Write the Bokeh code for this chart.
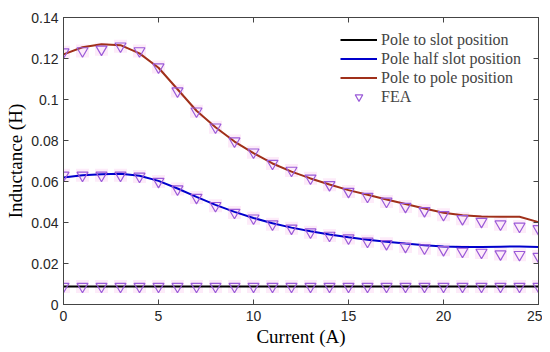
from bokeh.plotting import figure
from bokeh.models import LinearAxis, FixedTicker, Legend, LegendItem, Range1d
from bokeh.embed import file_html
from bokeh.resources import INLINE

current = list(range(26))

slot_line = [0.0088] * 26
half_slot_line = [0.062, 0.063, 0.0635, 0.0638, 0.0628, 0.0603, 0.0566, 0.0525, 0.0486, 0.0452,
                  0.0422, 0.0396, 0.0375, 0.0357, 0.0342, 0.0328, 0.0316, 0.0306, 0.0297, 0.0289,
                  0.0283, 0.0280, 0.0280, 0.0282, 0.0283, 0.0281]
pole_line = [0.122, 0.1255, 0.127, 0.1265, 0.1225, 0.1155, 0.105, 0.0945, 0.0865, 0.0795,
             0.0738, 0.0688, 0.0648, 0.0615, 0.0585, 0.0558, 0.0535, 0.0512, 0.049, 0.0468,
             0.0448, 0.0435, 0.0429, 0.0428, 0.0428, 0.0402]

fea_slot = [0.0088] * 26
fea_half = [0.063, 0.063, 0.063, 0.063, 0.0625, 0.060, 0.0563, 0.0522, 0.0482, 0.0449,
            0.0421, 0.0392, 0.0372, 0.0353, 0.0337, 0.0324, 0.0308, 0.0296, 0.0283, 0.0275,
            0.0267, 0.0259, 0.0254, 0.0246, 0.0243, 0.0234]
fea_pole = [0.1231, 0.1237, 0.1245, 0.126, 0.1237, 0.1158, 0.1041, 0.0943, 0.0865, 0.0797,
            0.0743, 0.0688, 0.0654, 0.0616, 0.0584, 0.0551, 0.0527, 0.0503, 0.0478, 0.0457,
            0.0438, 0.0418, 0.0405, 0.0392, 0.0381, 0.0369]

x_ticks = [0, 5, 10, 15, 20, 25]
y_ticks = [0, 0.02, 0.04, 0.06, 0.08, 0.1, 0.12, 0.14]
y_tick_labels = ["0", "0.02", "0.04", "0.06", "0.08", "0.1", "0.12", "0.14"]

SERIF = "'Liberation Serif', 'Times New Roman', serif"
SANS = "'Liberation Sans', Arial, sans-serif"

p = figure(width=542, height=352, output_backend="svg", toolbar_location=None,
           x_range=Range1d(0, 25), y_range=Range1d(0, 0.14),
           min_border_left=63, min_border_right=4, min_border_top=17, min_border_bottom=48)
p.xgrid.visible = False
p.ygrid.visible = False
p.outline_line_color = "#444444"
p.outline_line_width = 1

axis_col = "#444444"
for ax in (p.xaxis[0], p.yaxis[0]):
    ax.major_tick_in = 5
    ax.major_tick_out = 0
    ax.minor_tick_in = 0
    ax.minor_tick_out = 0
    ax.axis_line_color = axis_col
    ax.major_tick_line_color = axis_col
    ax.major_label_text_font = SANS
    ax.major_label_text_font_size = "14px"
    ax.major_label_text_color = "#262626"
    ax.axis_label_text_font = SERIF
    ax.axis_label_text_font_size = "19px"
    ax.axis_label_text_font_style = "normal"
    ax.axis_label_text_color = "#000000"

p.xaxis[0].ticker = FixedTicker(ticks=x_ticks)
p.yaxis[0].ticker = FixedTicker(ticks=y_ticks)
p.yaxis[0].major_label_overrides = {t: l for t, l in zip(y_ticks, y_tick_labels)}
p.xaxis[0].axis_label = "Current (A)"
p.yaxis[0].axis_label = "Inductance (H)"
p.xaxis[0].major_label_standoff = 6
p.xaxis[0].axis_label_standoff = 2
p.yaxis[0].major_label_standoff = 5
p.yaxis[0].axis_label_standoff = 2

# mirror axes (top/right) with inward ticks only
top = LinearAxis(ticker=FixedTicker(ticks=x_ticks), major_tick_in=5, major_tick_out=0,
                 minor_tick_in=0, minor_tick_out=0,
                 major_label_overrides={t: "" for t in x_ticks},
                 major_label_standoff=0, axis_line_color=axis_col, major_tick_line_color=axis_col)
right = LinearAxis(ticker=FixedTicker(ticks=y_ticks), major_tick_in=5, major_tick_out=0,
                   minor_tick_in=0, minor_tick_out=0,
                   major_label_overrides={t: "" for t in y_ticks},
                   major_label_standoff=0, axis_line_color=axis_col, major_tick_line_color=axis_col)
p.add_layout(top, "above")
p.add_layout(right, "right")

r1 = p.line(current, slot_line, line_color="#000000", line_width=2)
r2 = p.line(current, half_slot_line, line_color="#0000cc", line_width=2)
r3 = p.line(current, pole_line, line_color="#a0301a", line_width=2)

fea_x = current * 3
fea_y = fea_slot + fea_half + fea_pole
p.scatter(fea_x, fea_y, marker="square", size=13, fill_color="#fde6f7", line_color=None,
          fill_alpha=0.8, level="underlay")
r4 = p.scatter(fea_x, fea_y, marker="inverted_triangle", size=11, fill_color=None,
               line_color="#9a5ad8", line_width=1.2)

legend = Legend(items=[
    LegendItem(label="Pole to slot position", renderers=[r1]),
    LegendItem(label="Pole half slot position", renderers=[r2]),
    LegendItem(label="Pole to pole position", renderers=[r3]),
    LegendItem(label="FEA", renderers=[r4]),
], location=(277, 198))
legend.border_line_color = None
legend.background_fill_alpha = 0
legend.label_text_font = SERIF
legend.label_text_font_size = "16px"
legend.glyph_width = 37
legend.glyph_height = 19
legend.label_height = 19
legend.spacing = 0
legend.padding = 0
legend.margin = 0
legend.label_standoff = 4
p.add_layout(legend)

open("out.html", "w").write(file_html(p, INLINE))
